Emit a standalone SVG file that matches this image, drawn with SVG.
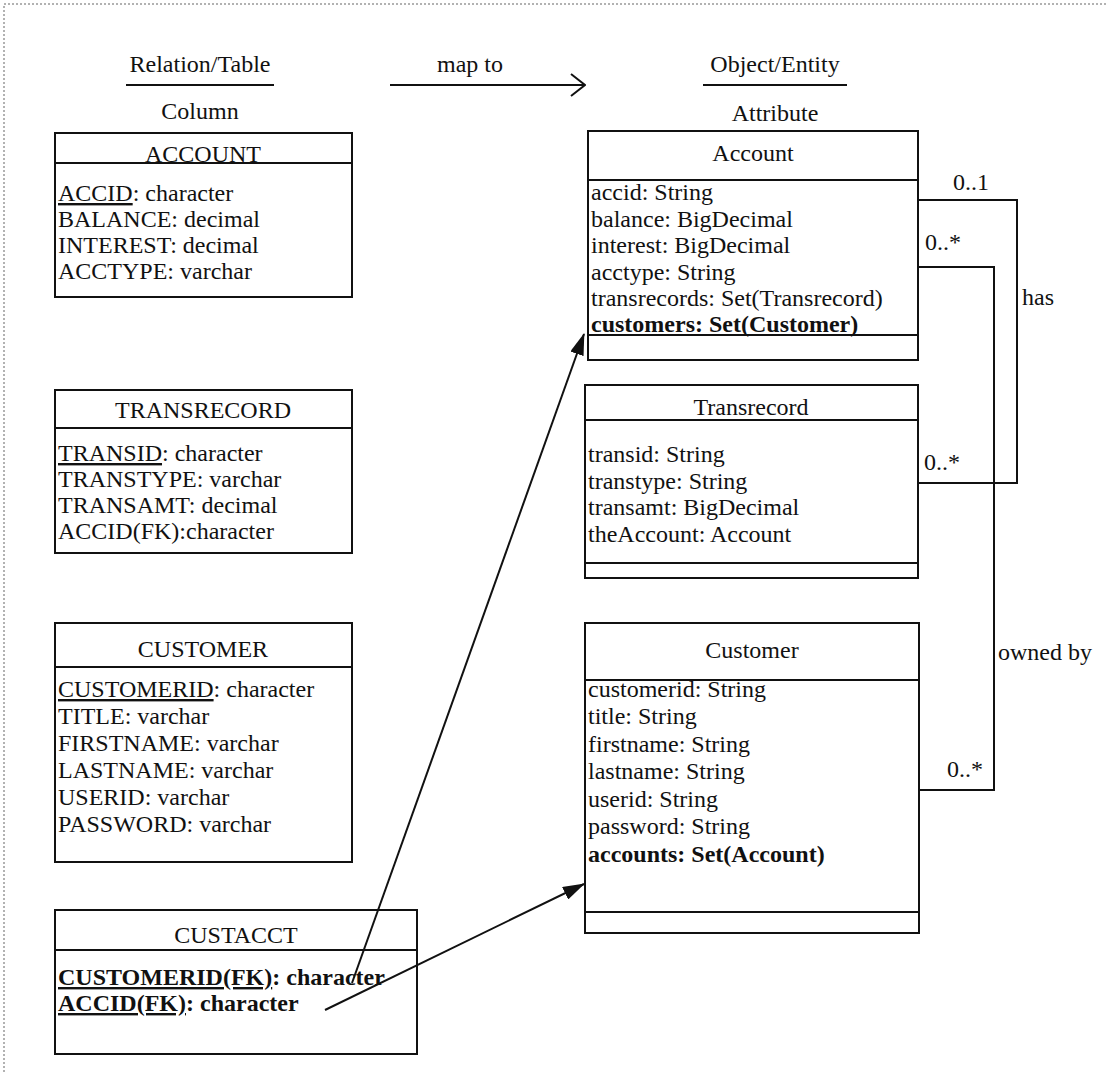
<svg xmlns="http://www.w3.org/2000/svg" width="1108" height="1077" viewBox="0 0 1108 1077">
<style>
text{font-family:"Liberation Serif","Times New Roman",serif;font-size:24px;fill:#111}
.c{text-anchor:middle}
.b{font-weight:bold}
.u{text-decoration:underline}
.box{fill:#fff;stroke:#111;stroke-width:2}
.ln{stroke:#111;stroke-width:2;fill:none}
.frame{stroke:#999;stroke-width:1.5;stroke-dasharray:2 2;fill:none}
</style>
<defs>
<marker id="fa" markerWidth="22" markerHeight="14" refX="21" refY="7" orient="auto" markerUnits="userSpaceOnUse">
<path d="M0,0 L22,7 L0,14 Z" fill="#111"/>
</marker>
<marker id="oa" markerWidth="16" markerHeight="24" refX="15" refY="12" orient="auto" markerUnits="userSpaceOnUse">
<path d="M1,1 L15,12 L1,23" fill="none" stroke="#111" stroke-width="2"/>
</marker>
</defs>
<rect width="1108" height="1077" fill="#fff"/>
<path class="frame" d="M4,1072 L4,4 L1108,4"/>

<g id="legend">
<text class="c" x="200" y="72">Relation/Table</text>
<line class="ln" x1="126" y1="85" x2="274" y2="85"/>
<text class="c" x="200" y="119">Column</text>
<text class="c" x="470" y="72">map to</text>
<line class="ln" x1="390" y1="85" x2="585" y2="85" marker-end="url(#oa)"/>
<text class="c" x="775" y="72">Object/Entity</text>
<line class="ln" x1="703" y1="85" x2="847" y2="85"/>
<text class="c" x="775" y="121">Attribute</text>
</g>

<g id="tbl-account">
<rect class="box" x="55" y="133" width="297" height="164"/>
<line class="ln" x1="55" y1="163" x2="352" y2="163"/>
<text class="c" x="203" y="162">ACCOUNT</text>
<text x="58" y="201"><tspan class="u">ACCID</tspan>: character</text>
<text x="58" y="227">BALANCE: decimal</text>
<text x="58" y="253">INTEREST: decimal</text>
<text x="58" y="279">ACCTYPE: varchar</text>
</g>

<g id="tbl-transrecord">
<rect class="box" x="55" y="390" width="297" height="163"/>
<line class="ln" x1="55" y1="428" x2="352" y2="428"/>
<text class="c" x="203" y="418">TRANSRECORD</text>
<text x="58" y="461"><tspan class="u">TRANSID</tspan>: character</text>
<text x="58" y="487">TRANSTYPE: varchar</text>
<text x="58" y="513">TRANSAMT: decimal</text>
<text x="58" y="539">ACCID(FK):character</text>
</g>

<g id="tbl-customer">
<rect class="box" x="55" y="623" width="297" height="239"/>
<line class="ln" x1="55" y1="667" x2="352" y2="667"/>
<text class="c" x="203" y="657">CUSTOMER</text>
<text x="58" y="697"><tspan class="u">CUSTOMERID</tspan>: character</text>
<text x="58" y="724">TITLE: varchar</text>
<text x="58" y="751">FIRSTNAME: varchar</text>
<text x="58" y="778">LASTNAME: varchar</text>
<text x="58" y="805">USERID: varchar</text>
<text x="58" y="832">PASSWORD: varchar</text>
</g>

<g id="tbl-custacct">
<rect class="box" x="55" y="910" width="362" height="144"/>
<line class="ln" x1="55" y1="950" x2="417" y2="950"/>
<text class="c" x="236" y="943">CUSTACCT</text>
<text class="b" x="58" y="985"><tspan class="u">CUSTOMERID(FK)</tspan>: character</text>
<text class="b" x="58" y="1011"><tspan class="u">ACCID(FK)</tspan>: character</text>
</g>

<g id="cls-account">
<rect class="box" x="588" y="131" width="330" height="229"/>
<line class="ln" x1="588" y1="180" x2="918" y2="180"/>
<text class="c" x="753" y="161">Account</text>
<text x="591" y="200">accid: String</text>
<text x="591" y="227">balance: BigDecimal</text>
<text x="591" y="253">interest: BigDecimal</text>
<text x="591" y="280">acctype: String</text>
<text x="591" y="306">transrecords: Set(Transrecord)</text>
<text class="b" x="591" y="332">customers: Set(Customer)</text>
<line class="ln" x1="588" y1="335" x2="918" y2="335"/>
</g>

<g id="cls-transrecord">
<rect class="box" x="585" y="385" width="333" height="193"/>
<line class="ln" x1="585" y1="420" x2="918" y2="420"/>
<text class="c" x="751" y="415">Transrecord</text>
<text x="588" y="462">transid: String</text>
<text x="588" y="489">transtype: String</text>
<text x="588" y="515">transamt: BigDecimal</text>
<text x="588" y="542">theAccount: Account</text>
<line class="ln" x1="585" y1="563" x2="918" y2="563"/>
</g>

<g id="cls-customer">
<rect class="box" x="585" y="623" width="334" height="310"/>
<line class="ln" x1="585" y1="680" x2="919" y2="680"/>
<text class="c" x="752" y="658">Customer</text>
<text x="588" y="697">customerid: String</text>
<text x="588" y="724">title: String</text>
<text x="588" y="752">firstname: String</text>
<text x="588" y="779">lastname: String</text>
<text x="588" y="807">userid: String</text>
<text x="588" y="834">password: String</text>
<text class="b" x="588" y="862">accounts: Set(Account)</text>
<line class="ln" x1="585" y1="912" x2="919" y2="912"/>
</g>

<g id="connectors">
<path class="ln" d="M918,200 L1017,200 L1017,483 L918,483"/>
<text x="953" y="190">0..1</text>
<text x="924" y="470">0..*</text>
<text x="1022" y="305">has</text>
<path class="ln" d="M918,267 L994,267 L994,790 L919,790"/>
<text x="925" y="250">0..*</text>
<text x="947" y="777">0..*</text>
<text x="998" y="660">owned by</text>
<line class="ln" x1="352" y1="983" x2="584" y2="334" marker-end="url(#fa)"/>
<line class="ln" x1="325" y1="1010" x2="584" y2="884" marker-end="url(#fa)"/>
</g>
</svg>
